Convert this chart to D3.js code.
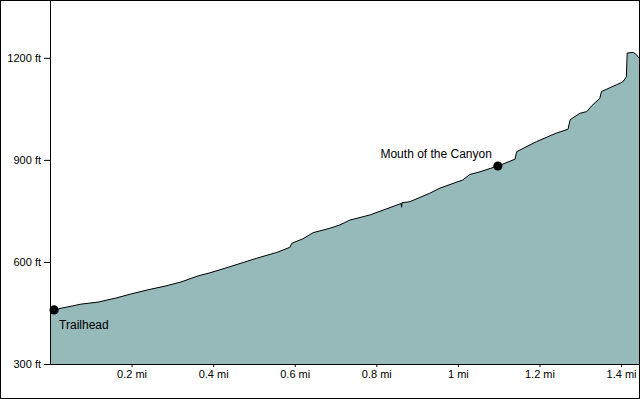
<!DOCTYPE html>
<html>
<head>
<meta charset="utf-8">
<script src="https://cdn.jsdelivr.net/npm/d3@7"></script>
<style>
  body { margin: 0; background: #fff; }
  text { font-family: Arial, "Liberation Sans", sans-serif; }
</style>
</head>
<body>
<div id="chart"></div>
<script>
// elevation profile (miles / feet)
const distances = [0, 0.02, 0.076, 0.118, 0.162, 0.199, 0.24, 0.282, 0.321, 0.363,
  0.392, 0.441, 0.507, 0.556, 0.588, 0.593, 0.62, 0.645, 0.686, 0.711,
  0.735, 0.784, 0.841, 0.861, 0.862, 0.863, 0.882, 0.931, 0.956, 1.012, 1.029,
  1.054, 1.098, 1.14, 1.144, 1.193, 1.242, 1.27, 1.275, 1.299, 1.316,
  1.328, 1.348, 1.352, 1.389, 1.404, 1.413, 1.415, 1.43, 1.438, 1.444]
const elevations = [459, 462, 476, 482, 494, 506, 518, 529, 541, 559,
  568, 586, 611, 628, 643, 655, 668, 686, 699, 709,
  723, 738, 763, 772, 761, 774, 777, 802, 817, 841, 857,
  865, 882, 902, 924, 954, 979, 990, 1018, 1037, 1042,
  1059, 1081, 1101, 1121, 1129, 1144, 1214, 1216, 1209, 1199]

// labelled points
const markerNames = ["Trailhead", "Mouth of the Canyon"]
const markerDistances = [0.01, 1.098]
const markerElevations = [459, 882]

const yTicks = [300, 600, 900, 1200]
const xTicks = [0.2, 0.4, 0.6, 0.8, 1, 1.2, 1.4]

const W = 640, H = 399
var margin = { top: 0, right: 1, bottom: 35, left: 50 }

const svg = d3.select("#chart")
  .append("svg")
    .attr("width", W)
    .attr("height", H)

const x = d3.scaleLinear()
  .domain([0, 1.444])
  .range([margin.left, W - margin.right])
const y = d3.scaleLinear()
  .domain([300, 1370])
  .range([H - margin.bottom, margin.top])

const data = distances.map(function(d, i) { return { d: d, e: elevations[i] } })

// filled profile
svg.append("path")
  .datum(data)
  .attr("d", d3.area()
    .x(function(p) { return x(p.d) })
    .y0(y(300))
    .y1(function(p) { return y(p.e) }))
  .style("fill", "#96b9ba")

svg.append("path")
  .datum(data)
  .attr("d", d3.line()
    .x(function(p) { return x(p.d) })
    .y(function(p) { return y(p.e) }))
  .style("fill", "none")
  .style("stroke", "#000")
  .style("stroke-width", 1)

// axes
const xAxis = svg.append("g")
  .attr("transform", "translate(0," + y(300) + ")")
  .call(d3.axisBottom(x).tickValues(xTicks).tickSize(3).tickSizeOuter(0)
    .tickFormat(function(d) { return d + " mi" }))
const yAxis = svg.append("g")
  .attr("transform", "translate(" + margin.left + ",0)")
  .call(d3.axisLeft(y).tickValues(yTicks).tickSizeOuter(0)
    .tickFormat(function(d) { return d + " ft" }))

svg.selectAll(".tick text")
  .style("font-size", "11px")
  .style("font-family", "Arial, 'Liberation Sans', sans-serif")
  .style("fill", "#000")
xAxis.select(".domain").attr("d", "M" + x(0) + ",0.5H" + x(1.444))
yAxis.select(".domain").attr("d", "M0.5," + y(300) + "V0")

// markers
svg.append("g")
  .selectAll("circle")
  .data(markerNames)
  .enter()
  .append("circle")
    .attr("cx", function(_, i) { return x(markerDistances[i]) })
    .attr("cy", function(_, i) { return y(markerElevations[i]) })
    .attr("r", 4.6)
    .style("fill", "#000")

svg.append("g")
  .selectAll("text")
  .data(markerNames)
  .enter()
  .append("text")
    .attr("x", function(_, i) { return i == 0 ? x(markerDistances[i]) + 5 : x(markerDistances[i]) - 6 })
    .attr("y", function(_, i) { return i == 0 ? y(markerElevations[i]) + 19 : y(markerElevations[i]) - 8 })
    .style("text-anchor", function(_, i) { return i == 0 ? "start" : "end" })
    .style("font-size", "12px")
    .style("fill", "#000")
    .text(function(d) { return d })

// outer frame
svg.append("rect")
  .attr("x", 0.5)
  .attr("y", 0.5)
  .attr("width", W - 1)
  .attr("height", H - 1)
  .style("fill", "none")
  .style("stroke", "#000")
</script>
</body>
</html>
